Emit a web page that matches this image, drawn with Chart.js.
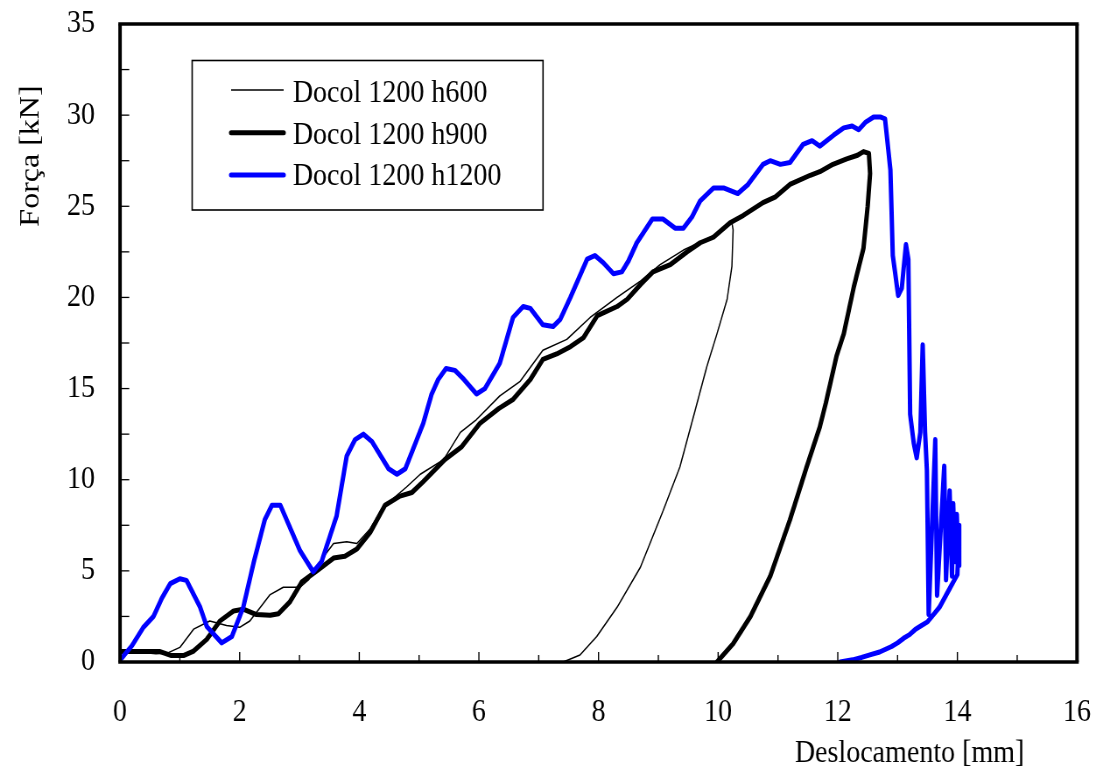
<!DOCTYPE html>
<html>
<head>
<meta charset="utf-8">
<script src="https://cdn.jsdelivr.net/npm/chart.js@4/dist/chart.umd.min.js"></script>
<style>
  html, body { margin: 0; padding: 0; background: #fff; }
  canvas { display: block; }
</style>
</head>
<body>
<canvas id="c" width="1260" height="775" style="width:1103px;height:775px"></canvas>
<script>
// ---- data ----
const seriesLabels = ['Docol 1200 h600', 'Docol 1200 h900', 'Docol 1200 h1200'];
const xTicks = [0, 2, 4, 6, 8, 10, 12, 14, 16];
const yTicks = [0, 5, 10, 15, 20, 25, 30, 35];

const h600X = [0,0.3,0.6,0.8,1.0,1.23,1.5,1.78,2.0,2.17,2.51,2.73,3.01,3.15,3.34,3.57,3.79,3.96,4.18,4.4,4.79,5.02,5.41,5.69,5.96,6.35,6.69,7.07,7.47,7.86,8.31,8.7,9.03,9.42,9.81,10.09,10.23,10.25,10.23,10.15,9.98,9.81,9.59,9.36,9.08,8.7,8.31,7.97,7.69,7.41];
const h600Y = [0.55,0.55,0.45,0.5,0.8,1.8,2.25,2.0,1.9,2.25,3.7,4.1,4.1,4.5,5.5,6.5,6.6,6.5,7.3,8.5,9.6,10.3,11.1,12.6,13.3,14.6,15.4,17.1,17.7,18.9,20.0,20.9,21.8,22.6,23.2,23.7,24.1,23.7,21.7,19.9,18.0,16.2,13.5,10.7,8.3,5.2,3.0,1.4,0.38,0];

const h900X = [0,0.67,0.86,1.06,1.23,1.45,1.67,1.9,2.06,2.28,2.51,2.65,2.84,3.04,3.29,3.57,3.76,3.96,4.18,4.43,4.68,4.88,5.07,5.43,5.71,6.02,6.33,6.57,6.86,7.07,7.3,7.53,7.75,7.98,8.31,8.48,8.7,8.91,9.2,9.48,9.7,9.92,10.2,10.42,10.75,10.95,11.2,11.54,11.7,11.92,12.15,12.33,12.43,12.52,12.54,12.5,12.43,12.27,12.1,11.98,11.8,11.7,11.48,11.2,10.87,10.54,10.25,9.98];
const h900Y = [0.57,0.57,0.35,0.35,0.6,1.24,2.25,2.8,2.9,2.6,2.56,2.65,3.3,4.4,5.0,5.7,5.8,6.2,7.1,8.6,9.1,9.3,9.9,11.1,11.8,13.1,13.9,14.4,15.5,16.6,16.9,17.3,17.8,19.0,19.5,19.9,20.7,21.4,21.8,22.5,23.0,23.3,24.1,24.5,25.2,25.5,26.2,26.7,26.9,27.3,27.6,27.8,28.0,27.9,26.8,25.0,22.7,20.6,18.0,16.8,14.2,12.9,10.7,7.8,4.7,2.5,1.0,0];

const h1200X = [0,0.1,0.2,0.39,0.56,0.7,0.84,1.0,1.11,1.34,1.45,1.7,1.87,2.06,2.23,2.42,2.54,2.68,3.01,3.23,3.37,3.62,3.79,3.93,4.07,4.21,4.49,4.63,4.77,5.07,5.21,5.32,5.45,5.6,5.75,5.96,6.1,6.35,6.57,6.74,6.86,7.07,7.24,7.36,7.53,7.81,7.94,8.08,8.25,8.39,8.5,8.64,8.9,9.08,9.28,9.42,9.56,9.7,9.92,10.1,10.33,10.5,10.75,10.87,11.04,11.2,11.42,11.57,11.7,11.93,12.1,12.24,12.35,12.46,12.6,12.71,12.79,12.88,12.92,13.01,13.07,13.14,13.18,13.21,13.27,13.32,13.38,13.42,13.46,13.49,13.52,13.63,13.66,13.78,13.81,13.87,13.91,13.93,13.96,13.99,14.02,14.03,14.0,13.9,13.8,13.7,13.6,13.5,13.4,13.3,13.2,13.1,13.0,12.9,12.8,12.7,12.55,12.4,12.25,12.04];
const h1200Y = [0.1,0.5,0.9,1.9,2.5,3.5,4.3,4.57,4.48,3.0,1.95,1.05,1.4,3.0,5.4,7.8,8.6,8.6,6.1,4.95,5.5,8.0,11.3,12.2,12.5,12.1,10.6,10.3,10.6,13.1,14.7,15.5,16.1,16.0,15.5,14.7,15.0,16.4,18.9,19.5,19.4,18.5,18.4,18.8,20.0,22.1,22.3,21.9,21.3,21.4,22.0,23.0,24.3,24.3,23.8,23.8,24.4,25.3,26.0,26.0,25.7,26.2,27.3,27.5,27.3,27.4,28.4,28.6,28.3,28.9,29.3,29.4,29.2,29.6,29.9,29.9,29.8,27.0,22.3,20.1,20.5,22.9,22.1,13.6,12.0,11.2,12.6,17.4,12.6,10.5,2.6,12.2,3.65,10.75,4.5,9.4,4.7,8.7,5.5,8.1,5.3,7.5,4.8,4.2,3.6,3.0,2.6,2.2,2.0,1.8,1.5,1.3,1.05,0.85,0.7,0.55,0.4,0.25,0.12,0];

// ---- build ----
const pts = (xs, ys) => xs.map((x, i) => ({x: x, y: ys[i]}));
const SERIF = '"Liberation Serif", "Times New Roman", serif';
const styles = [
  {color: '#000000', width: 1.5, order: 3},
  {color: '#000000', width: 5, order: 2},
  {color: '#0000ff', width: 5, order: 1}
];
const dataArrays = [[h600X, h600Y], [h900X, h900Y], [h1200X, h1200Y]];

const datasets = seriesLabels.map((lab, i) => ({
  label: lab,
  data: pts(dataArrays[i][0], dataArrays[i][1]),
  showLine: true,
  borderColor: styles[i].color,
  backgroundColor: styles[i].color,
  borderWidth: styles[i].width,
  pointRadius: 0,
  pointHoverRadius: 0,
  tension: 0,
  fill: false,
  borderJoinStyle: 'round',
  borderCapStyle: 'round',
  order: styles[i].order
}));

const decor = {
  id: 'decor',
  afterDatasetsDraw(chart) {
    const ctx = chart.ctx;
    const a = chart.chartArea;
    const xs = chart.scales.x, ys = chart.scales.y;
    ctx.save();
    ctx.strokeStyle = '#000';
    // inner ticks x
    ctx.lineWidth = 1.4;
    for (let v = 1; v < 16; v++) {
      const px = xs.getPixelForValue(v);
      const len = (v % 2 === 0) ? 10 : 7;
      ctx.beginPath(); ctx.moveTo(px, a.bottom); ctx.lineTo(px, a.bottom - len); ctx.stroke();
    }
    // inner ticks y
    ctx.lineWidth = 1.3;
    for (let v = 2.5; v < 35; v += 2.5) {
      const py = ys.getPixelForValue(v);
      ctx.beginPath(); ctx.moveTo(a.left, py); ctx.lineTo(a.left + 10.5, py); ctx.stroke();
    }
    // frame
    ctx.lineWidth = 3.4;
    ctx.beginPath(); ctx.moveTo(a.left - 2, a.top); ctx.lineTo(a.right + 2, a.top); ctx.stroke();
    ctx.beginPath(); ctx.moveTo(a.left - 2, a.bottom); ctx.lineTo(a.right + 2, a.bottom); ctx.stroke();
    ctx.lineWidth = 4;
    ctx.beginPath(); ctx.moveTo(a.left, a.top); ctx.lineTo(a.left, a.bottom); ctx.stroke();
    ctx.beginPath(); ctx.moveTo(a.right, a.top); ctx.lineTo(a.right, a.bottom); ctx.stroke();

    // legend
    const bx0 = 219.5, bx1 = 620.3, by0 = 60.5, by1 = 210;
    ctx.fillStyle = '#fff';
    ctx.fillRect(bx0, by0, bx1 - bx0, by1 - by0);
    ctx.lineWidth = 1.6;
    ctx.strokeRect(bx0, by0, bx1 - bx0, by1 - by0);
    const lineYs = [90, 132.7, 175];
    const textYs = [102, 143.5, 184.5];
    ctx.font = '32px ' + SERIF;
    ctx.textAlign = 'left';
    ctx.textBaseline = 'alphabetic';
    chart.data.datasets.forEach((ds, i) => {
      ctx.strokeStyle = ds.borderColor;
      ctx.lineWidth = ds.borderWidth;
      ctx.lineCap = i === 0 ? 'butt' : 'round';
      ctx.beginPath(); ctx.moveTo(264, lineYs[i]); ctx.lineTo(324, lineYs[i]); ctx.stroke();
      ctx.fillStyle = '#000';
      ctx.fillText(ds.label, 334.5, textYs[i]);
    });

    // axis titles
    ctx.fillStyle = '#000';
    ctx.font = '32px ' + SERIF;
    ctx.textAlign = 'left';
    ctx.textBaseline = 'alphabetic';
    ctx.fillText('Deslocamento [mm]', 908, 762);
    ctx.save();
    ctx.translate(44, 156);
    ctx.rotate(-Math.PI / 2);
    ctx.textAlign = 'center';
    ctx.fillText('Força [kN]', 0, 0);
    ctx.restore();
    ctx.restore();
  }
};

new Chart(document.getElementById('c'), {
  type: 'scatter',
  data: { datasets: datasets },
  options: {
    responsive: false,
    animation: false,
    devicePixelRatio: 1,
    layout: { padding: { left: 0, right: 29.7, top: 24, bottom: 0 } },
    plugins: { legend: { display: false }, tooltip: { enabled: false } },
    scales: {
      x: {
        type: 'linear', min: 0, max: 16,
        afterBuildTicks: s => { s.ticks = xTicks.map(v => ({value: v})); },
        afterFit: s => { s.height = 113; s.paddingLeft = 0; s.paddingRight = 0; },
        grid: { display: false, drawTicks: false },
        border: { display: false },
        ticks: { color: '#000', padding: 31, font: { family: SERIF, size: 32 }, maxRotation: 0, autoSkip: false }
      },
      y: {
        type: 'linear', min: 0, max: 35,
        afterBuildTicks: s => { s.ticks = yTicks.map(v => ({value: v})); },
        afterFit: s => { s.width = 137.1; s.paddingTop = 0; s.paddingBottom = 0; },
        grid: { display: false, drawTicks: false },
        border: { display: false },
        ticks: { color: '#000', padding: 28.6, font: { family: SERIF, size: 32 }, autoSkip: false }
      }
    }
  },
  plugins: [decor]
});
</script>
</body>
</html>
